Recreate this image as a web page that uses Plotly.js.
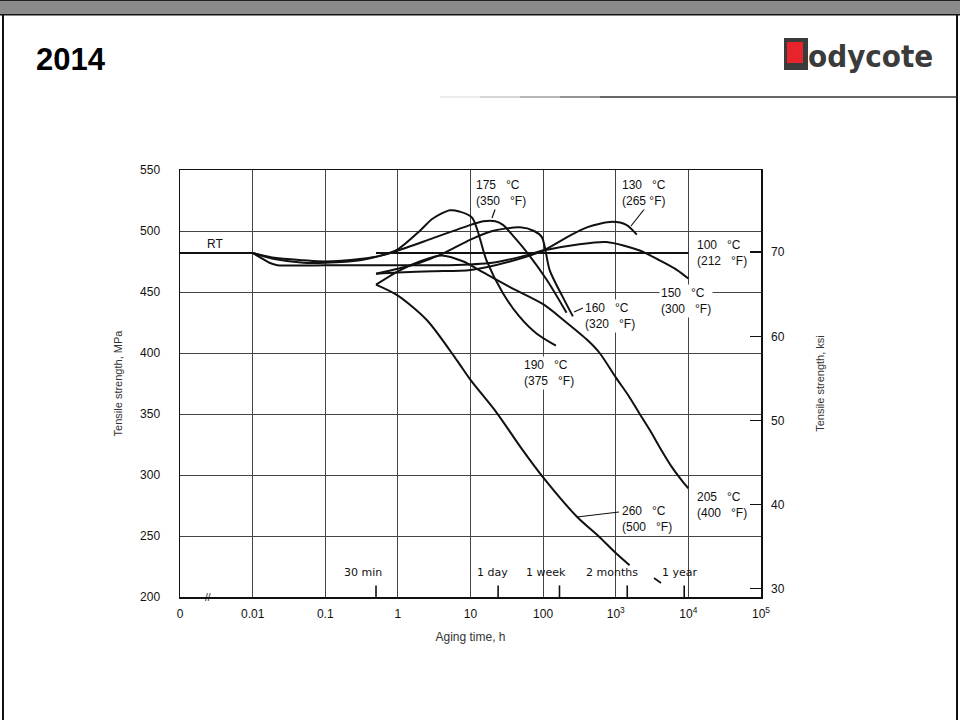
<!DOCTYPE html>
<html>
<head>
<meta charset="utf-8">
<script src="https://cdn.plot.ly/plotly-3.0.1.min.js"></script>
<style>html,body{margin:0;padding:0;background:#fff;}#chart{width:960px;height:720px;}</style>
</head>
<body>
<div id="chart"></div>
<script>
// ---- data (aging time in h, tensile strength in MPa) ----
const rtTime = [0.001, 0.01];
const rtMPa  = [482, 482];

const t100 = [0.5, 10000];
const s100 = [482, 482];

const t130 = [0.5, 1, 3, 10, 35, 100, 200, 400, 900, 1400, 1950];
const s130 = [465, 466, 467, 468, 475, 484, 494, 503, 507.5, 505, 497];

const t150 = [0.01, 0.013, 0.017, 0.022, 0.1, 1, 5, 20, 50, 100, 300, 740, 2140, 4000, 7000, 10000];
const s150 = [482, 478, 474, 472, 472, 472, 472, 474, 479, 484, 489, 491, 484, 476, 468, 461];

const t160 = [0.5, 1, 2, 4, 10, 20, 48, 75, 96, 123, 186, 257];
const s160 = [465, 469, 474, 481, 493, 500, 503, 500, 495, 468, 446, 430];

const t175 = [0.01, 0.02, 0.05, 0.1, 0.3, 0.6, 1, 3, 8, 15, 22, 28, 40, 59, 112, 210];
const s175 = [482, 477, 474, 474, 476, 480, 484, 494, 503, 508, 508, 505, 495, 483, 460, 433];

const t190 = [0.01, 0.02, 0.05, 0.1, 0.3, 0.6, 1, 2, 3, 5.2, 7, 10.5, 16.6, 28, 47, 81, 150];
const s190 = [482, 478, 476, 475, 477, 480, 485, 500, 510, 517, 516, 511, 476, 449, 430, 416, 406];

const t205 = [0.5, 1, 2, 4, 8, 15, 35, 100, 200, 400, 600, 1000, 1500, 2140, 3000, 4000, 6000, 8000, 10000];
const s205 = [456, 467, 475, 480, 475, 466, 454, 440, 426, 411, 400, 380, 365, 350, 336, 323, 306, 296, 289];

const t260 = [0.5, 1, 2.5, 6.5, 10, 23, 50, 100, 290, 600, 1000, 1550];
const s260 = [456, 447, 427, 394, 378, 351, 322, 298, 266, 249, 236, 226];

// time markers on the time axis (h) and their labels
const markTimes = [0.5, 24, 168, 1440, 8760];
const markLabels = ['30 min', '1 day', '1 week', '2 months', '1 year'];

const xTickVals = [0.001, 0.01, 0.1, 1, 10, 100, 1000, 10000, 100000];
const xTickText = ['0', '0.01', '0.1', '1', '10', '100', '10<sup>3</sup>', '10<sup>4</sup>', '10<sup>5</sup>'];
const ksiTicks = [30, 40, 50, 60, 70];
const MPA_PER_KSI = 6.894757;

// ---- geometry helpers (pixel -> paper) ----
const L = 180, R = 761, T = 170, B = 597;
const px = x => (x - L) / (R - L);
const py = y => (B - y) / (B - T);

const curveLine = {color: '#111', width: 2};
function curve(t, s, name) {
  return {x: t, y: s, name: name, type: 'scatter', mode: 'lines',
          line: Object.assign({shape: 'spline', smoothing: 0.8}, curveLine),
          hoverinfo: 'skip', showlegend: false};
}

const mx = [], my = [];
markTimes.forEach(t => { mx.push(t, t, null); my.push(200, 209.5, null); });

const traces = [
  {x: rtTime, y: rtMPa, type: 'scatter', mode: 'lines', line: curveLine, hoverinfo: 'skip', showlegend: false},
  {x: t100, y: s100, type: 'scatter', mode: 'lines', line: curveLine, hoverinfo: 'skip', showlegend: false},
  curve(t130, s130, '130 °C'),
  curve(t150, s150, '150 °C'),
  curve(t160, s160, '160 °C'),
  curve(t175, s175, '175 °C'),
  curve(t190, s190, '190 °C'),
  curve(t205, s205, '205 °C'),
  curve(t260, s260, '260 °C'),
  {x: mx, y: my, type: 'scatter', mode: 'lines', line: {color: '#111', width: 1.6}, hoverinfo: 'skip', showlegend: false},
  {x: [1], y: [50], yaxis: 'y2', type: 'scatter', mode: 'markers', marker: {opacity: 0}, hoverinfo: 'skip', showlegend: false}
];

const lblFont = {family: 'Liberation Sans, Arial, sans-serif', size: 12, color: '#111'};
function lbl(text, x, y, extra) {
  return Object.assign({text: text, xref: 'paper', yref: 'paper', x: px(x), y: py(y),
    xanchor: 'left', yanchor: 'top', showarrow: false, align: 'left', font: lblFont,
    bgcolor: '#fff', borderpad: 1}, extra || {});
}
const clear = {bgcolor: 'rgba(0,0,0,0)'};
const markLeft = [342, 475, 524, 584, 660];

const annotations = [
  lbl('RT', 205, 235, clear),
  lbl('175   °C<br>(350   °F)', 474, 176),
  lbl('130   °C<br>(265 °F)', 620, 176),
  lbl('100   °C<br>(212   °F)', 695, 236),
  lbl('150   °C<br>(300   °F)', 659, 284),
  lbl('160   °C<br>(320   °F)', 583, 299),
  lbl('190   °C<br>(375   °F)', 522, 356),
  lbl('205   °C<br>(400   °F)', 695, 488),
  lbl('260   °C<br>(500   °F)', 620, 502),
  lbl('//', 203, 590, {bgcolor: 'rgba(0,0,0,0)', font: {family: 'Liberation Sans, Arial', size: 10, color: '#111'}}),
  // header
  {text: '<b>2014</b>', xref: 'paper', yref: 'paper', x: px(34), y: py(60), xanchor: 'left', yanchor: 'middle',
   showarrow: false, font: {family: 'Liberation Sans, Arial, sans-serif', size: 31, color: '#000'}},
  {text: '<b>odycote</b>', xref: 'paper', yref: 'paper', x: px(806), y: py(56), xanchor: 'left', yanchor: 'middle',
   showarrow: false, font: {family: 'Liberation Sans Narrow, DejaVu Sans Condensed, Liberation Sans, Arial', size: 31, color: '#3b3b3b'}}
];
markLabels.forEach((m, i) => {
  annotations.push(lbl(m, markLeft[i], 564, {bgcolor: 'rgba(0,0,0,0)',
    font: {family: 'DejaVu Sans, Liberation Sans, Arial', size: 11, color: '#111'}}));
});

function rectPx(x0, y0, x1, y1, color) {
  return {type: 'rect', xref: 'paper', yref: 'paper', x0: px(x0), x1: px(x1), y0: py(y0), y1: py(y1),
          fillcolor: color, line: {width: 0}, layer: 'above'};
}
function linePx(x0, y0, x1, y1, color, w) {
  return {type: 'line', xref: 'paper', yref: 'paper', x0: px(x0), x1: px(x1), y0: py(y0), y1: py(y1),
          line: {color: color, width: w || 1}, layer: 'above'};
}

const shapes = [
  // slide frame
  rectPx(0, 0, 960, 1.5, '#222'),
  rectPx(0, 1.5, 960, 14, '#8a8a8a'),
  rectPx(0, 14, 960, 15.5, '#111'),
  rectPx(2, 15, 4, 720, '#111'),
  rectPx(956, 15, 958, 720, '#111'),
  // header rule with fade
  linePx(440, 97, 480, 97, '#e6e6e6', 1.5),
  linePx(480, 97, 520, 97, '#c8c8c8', 1.5),
  linePx(520, 97, 560, 97, '#a0a0a0', 1.5),
  linePx(560, 97, 600, 97, '#707070', 1.5),
  linePx(600, 97, 957, 97, '#333', 1.5),
  // logo mark
  rectPx(784, 38, 808, 70, '#3b3b3b'),
  rectPx(787, 42, 803, 63, '#e5252b'),
  // leader lines
  linePx(497, 204, 492, 218, '#111', 1.2),
  linePx(646, 207, 631, 226, '#111', 1.2),
  linePx(574, 312, 583, 308, '#111', 1.2),
  linePx(577, 517, 619, 512, '#111', 1.2),
  linePx(654, 578, 661, 583, '#111', 1.6)
];

const axFont = {family: 'Liberation Sans, Arial, sans-serif', size: 12, color: '#111'};
const layout = {
  width: 960, height: 720,
  paper_bgcolor: '#fff', plot_bgcolor: '#fff',
  margin: {l: L, r: 960 - R, t: T, b: 720 - B, pad: 0},
  showlegend: false,
  xaxis: {
    type: 'log', range: [-3, 5], tickvals: xTickVals, ticktext: xTickText,
    showgrid: true, gridcolor: '#444', gridwidth: 1,
    showline: true, mirror: true, linecolor: '#111', linewidth: 1.5,
    ticks: '', zeroline: false, tickfont: axFont, ticklabelstandoff: 5,
    title: {text: 'Aging time, h', font: {family: 'Liberation Sans, Arial', size: 12, color: '#333'}, standoff: 12}
  },
  yaxis: {
    range: [200, 550], tick0: 200, dtick: 50,
    showgrid: true, gridcolor: '#444', gridwidth: 1,
    showline: true, mirror: true, linecolor: '#111', linewidth: 1.5,
    ticks: '', zeroline: false, tickfont: axFont, ticklabelstandoff: 16,
    title: {text: 'Tensile strength, MPa', font: {family: 'Liberation Sans, Arial', size: 11, color: '#333'}, standoff: 15}
  },
  yaxis2: {
    overlaying: 'y', side: 'right', range: [200 / MPA_PER_KSI, 550 / MPA_PER_KSI],
    tickvals: ksiTicks, ticks: 'inside', ticklen: 11, tickwidth: 1.5, tickcolor: '#111',
    showgrid: false, showline: false, zeroline: false, tickfont: axFont, ticklabelstandoff: 9,
    title: {text: 'Tensile strength, ksi', font: {family: 'Liberation Sans, Arial', size: 11, color: '#333'}, standoff: 32}
  },
  annotations: annotations,
  shapes: shapes
};

Plotly.newPlot('chart', traces, layout, {staticPlot: true, displayModeBar: false});
</script>
</body>
</html>
